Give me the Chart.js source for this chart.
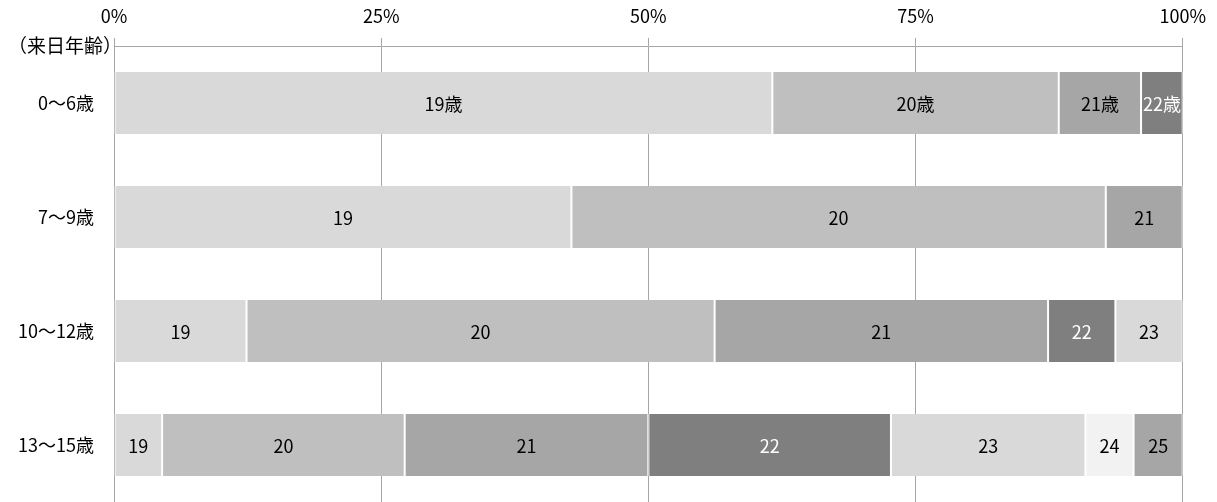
<!DOCTYPE html>
<html lang="ja">
<head>
<meta charset="utf-8">
<script src="https://cdn.jsdelivr.net/npm/chart.js@4"></script>
<style>
  html, body { margin: 0; padding: 0; background: #fff; overflow: hidden; }
  canvas { display: block; }
</style>
</head>
<body>
<canvas id="rainichi" width="1217" height="502" style="width:1217px;height:502px"></canvas>
<script>
(function () {
  'use strict';

  /* 来日年齢別 — 構成比 (%) */
  const CATEGORIES = ['0〜6歳', '7〜9歳', '10〜12歳', '13〜15歳'];
  const X_TICKS    = [0, 25, 50, 75, 100];

  const AGE_19 = [61.6, 42.8, 12.4, 4.5];
  const AGE_20 = [26.8, 50.0, 43.8, 22.7];
  const AGE_21 = [7.7, 7.2, 31.2, 22.8];
  const AGE_22 = [3.9, null, 6.3, 22.7];
  const AGE_23 = [null, null, 6.3, 18.2];
  const AGE_24 = [null, null, null, 4.5];
  const AGE_25 = [null, null, null, 4.6];

  const LBL_19 = ['19歳', '19', '19', '19'];
  const LBL_20 = ['20歳', '20', '20', '20'];
  const LBL_21 = ['21歳', '21', '21', '21'];
  const LBL_22 = ['22歳', '', '22', '22'];
  const LBL_23 = ['', '', '23', '23'];
  const LBL_24 = ['', '', '', '24'];
  const LBL_25 = ['', '', '', '25'];

  const FONT = "'Noto Sans CJK JP', 'Noto Sans', sans-serif";
  const GRID = '#a6a6a6';

  function seg(name, data, labels, color, textColor) {
    return {
      label: name,
      data: data,
      segLabels: labels,
      textColor: textColor,
      backgroundColor: color,
      borderColor: '#ffffff',
      borderWidth: { left: 1, right: 1, top: 0, bottom: 0 },
      borderSkipped: false,
      barPercentage: 0.545,
      categoryPercentage: 1.0
    };
  }

  /* 各区分の中央に数値ラベルを描く */
  const segLabelPlugin = {
    id: 'segLabels',
    afterDatasetsDraw: function (chart) {
      const ctx = chart.ctx;
      ctx.save();
      ctx.font = '18px ' + FONT;
      ctx.textAlign = 'center';
      ctx.textBaseline = 'middle';
      chart.data.datasets.forEach(function (ds, i) {
        chart.getDatasetMeta(i).data.forEach(function (bar, j) {
          const t = ds.segLabels[j];
          if (!t || ds.data[j] == null) return;
          const p = bar.getProps(['x', 'y', 'base'], true);
          ctx.fillStyle = ds.textColor;
          ctx.fillText(t, (p.x + p.base) / 2, p.y + 1);
        });
      });
      ctx.restore();
    },
    afterDraw: function (chart) {
      const ctx = chart.ctx;
      const a = chart.chartArea;
      ctx.save();
      ctx.font = '19px ' + FONT;
      ctx.fillStyle = '#000';
      ctx.textAlign = 'right';
      ctx.textBaseline = 'middle';
      ctx.fillText('（来日年齢）', a.left + 8, a.top);
      ctx.restore();
    }
  };

  new Chart(document.getElementById('rainichi'), {
    type: 'bar',
    data: {
      labels: CATEGORIES,
      datasets: [
        seg('19歳', AGE_19, LBL_19, '#d9d9d9', '#000'),
        seg('20歳', AGE_20, LBL_20, '#bfbfbf', '#000'),
        seg('21歳', AGE_21, LBL_21, '#a6a6a6', '#000'),
        seg('22歳', AGE_22, LBL_22, '#7f7f7f', '#fff'),
        seg('23歳', AGE_23, LBL_23, '#d9d9d9', '#000'),
        seg('24歳', AGE_24, LBL_24, '#f2f2f2', '#000'),
        seg('25歳', AGE_25, LBL_25, '#a6a6a6', '#000')
      ]
    },
    options: {
      indexAxis: 'y',
      responsive: false,
      animation: false,
      devicePixelRatio: 1,
      layout: { padding: { left: 0, right: 34, top: 0, bottom: 0 } },
      plugins: {
        legend: { display: false },
        tooltip: { enabled: false }
      },
      scales: {
        x: {
          position: 'top',
          stacked: true,
          min: 0,
          max: 100,
          afterBuildTicks: function (s) {
            s.ticks = X_TICKS.map(function (v) { return { value: v }; });
          },
          afterFit: function (s) { s.height = 46; },
          grid: { color: GRID, lineWidth: 1, tickLength: 8, drawTicks: true },
          border: { color: GRID, width: 1 },
          ticks: {
            color: '#000',
            padding: 11,
            font: { family: FONT, size: 18 },
            maxRotation: 0,
            callback: function (v) { return v + '%'; }
          }
        },
        y: {
          stacked: true,
          afterFit: function (s) {
            s.width = 114;
            s.paddingTop = 0;
            s.paddingBottom = 0;
          },
          grid: { display: false, drawTicks: false },
          border: { color: GRID, width: 1 },
          ticks: {
            color: '#000',
            padding: 20,
            font: { family: FONT, size: 18 }
          }
        }
      }
    },
    plugins: [segLabelPlugin]
  });
})();
</script>
</body>
</html>
